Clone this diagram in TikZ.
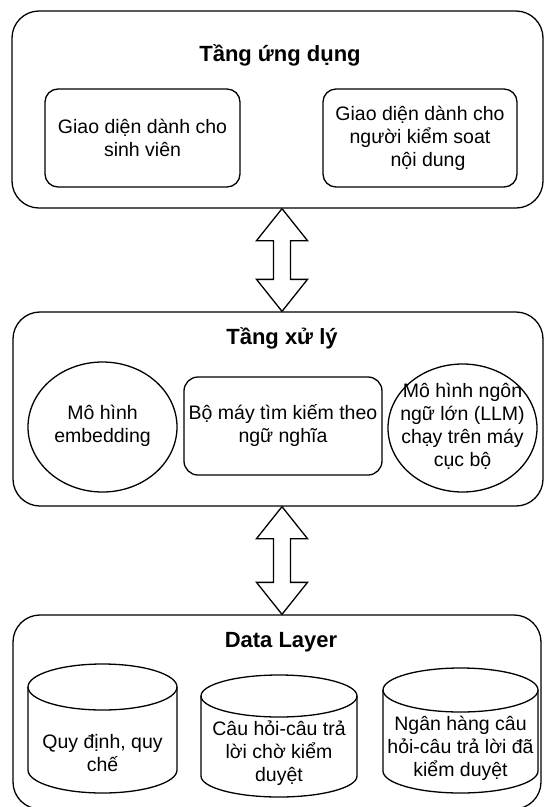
\documentclass[tikz,border=0pt]{standalone}
\usepackage{fontspec}
\setmainfont{Liberation Sans}
\usetikzlibrary{calc}
\newcommand\bodyfs{\fontsize{19.5}{23}\selectfont}
\newcommand\titlefs{\fontsize{22}{26}\selectfont\bfseries}
\newcommand\mycyl[5]{%
  \draw[shapeline, fill=white] (#1,#3) -- (#1,#5) arc[start angle=180, end angle=0, x radius={(#2-#1)/2}, y radius=#4] -- (#2,#3);
  \draw[shapeline] ({(#1+#2)/2},#3) ellipse[x radius={(#2-#1)/2}, y radius=#4];}
\tikzset{
  shapeline/.style={draw=black, line width=1.3pt},
  layer/.style={shapeline, rounded corners=27pt, inner sep=0pt},
  innerbox/.style={shapeline, rounded corners=13pt, align=center, font=\bodyfs, inner sep=0pt},
  plaintext/.style={align=center, font=\bodyfs, inner sep=0pt},
  titletext/.style={font=\titlefs, inner sep=0pt, anchor=base},
  bigarrow/.style={shapeline, fill=white, line join=miter},
}
\begin{document}
\begin{tikzpicture}[x=1pt, y=-1pt]
\useasboundingbox (0,0) rectangle (544,807);
\fill[white] (0,0) rectangle (544,807);

% Application layer
\node[layer, minimum width=531pt, minimum height=197pt] (app) at (277.5,109.5) {};
\node[titletext] (t1) at (280,61) {Tầng ứng dụng};
\node[innerbox, minimum width=195pt, minimum height=98pt] (ui1) at (142.5,138) {Giao diện dành cho\\sinh viên};
\node[innerbox, minimum width=194pt, minimum height=98pt] (ui2) at (420,138) {Giao diện dành cho\\người kiểm soat\hspace*{20pt}\\\hspace*{16pt}nội dung};

% Processing layer
\node[layer, minimum width=530pt, minimum height=194pt] (proc) at (278,409) {};
\node[titletext] (t2) at (282,344) {Tầng xử lý};
\node[plaintext] (emb) at (102.5,426) {Mô hình\\embedding};
\draw[shapeline] (102.5,427) ellipse[x radius=74.5, y radius=65];
\node[innerbox, rounded corners=14pt, minimum width=198pt, minimum height=98pt] (sem) at (283,426) {Bộ máy tìm kiếm theo\\ngữ nghĩa};
\draw[shapeline] (462.5,428) ellipse[x radius=74.5, y radius=64];
\node[plaintext] (llm) at (462.5,426) {Mô hình ngôn\\ngữ lớn (LLM)\\chạy trên máy\\cục bộ};

% Data layer
\node[layer, minimum width=528pt, minimum height=194pt] (data) at (277,712) {};
\node[titletext] (t3) at (281,647) {Data Layer};
\mycyl{28}{177}{687}{23}{770}
\mycyl{201}{357}{696}{21}{776}
\mycyl{383}{538}{690}{22}{771}
\node[plaintext] (c1) at (102.5,753) {Quy định, quy\\chế};
\node[plaintext] (c2) at (279,753) {Câu hỏi-câu trả\\lời chờ kiểm\\duyệt};
\node[plaintext] (c3) at (460.5,748) {Ngân hàng câu\\hỏi-câu trả lời đã\\kiểm duyệt};

% Double arrows
\coordinate (a1t) at ($(app.south)+(4.5,0)$);
\coordinate (a1b) at ($(proc.north)+(4,0)$);
\draw[bigarrow] (a1t) -- ++(25.5,32) -- ++(-17,0) -- ($(a1b)+(8.5,-32)$) -- ++(17,0) -- (a1b)
  -- ++(-25.5,-32) -- ++(17,0) -- ($(a1t)+(-8.5,32)$) -- ++(-17,0) -- cycle;
\coordinate (a2t) at ($(proc.south)+(4,0)$);
\coordinate (a2b) at ($(data.north)+(5,0)$);
\draw[bigarrow] (a2t) -- ++(25.5,32) -- ++(-17,0) -- ($(a2b)+(8.5,-32)$) -- ++(17,0) -- (a2b)
  -- ++(-25.5,-32) -- ++(17,0) -- ($(a2t)+(-8.5,32)$) -- ++(-17,0) -- cycle;
\end{tikzpicture}
\end{document}
